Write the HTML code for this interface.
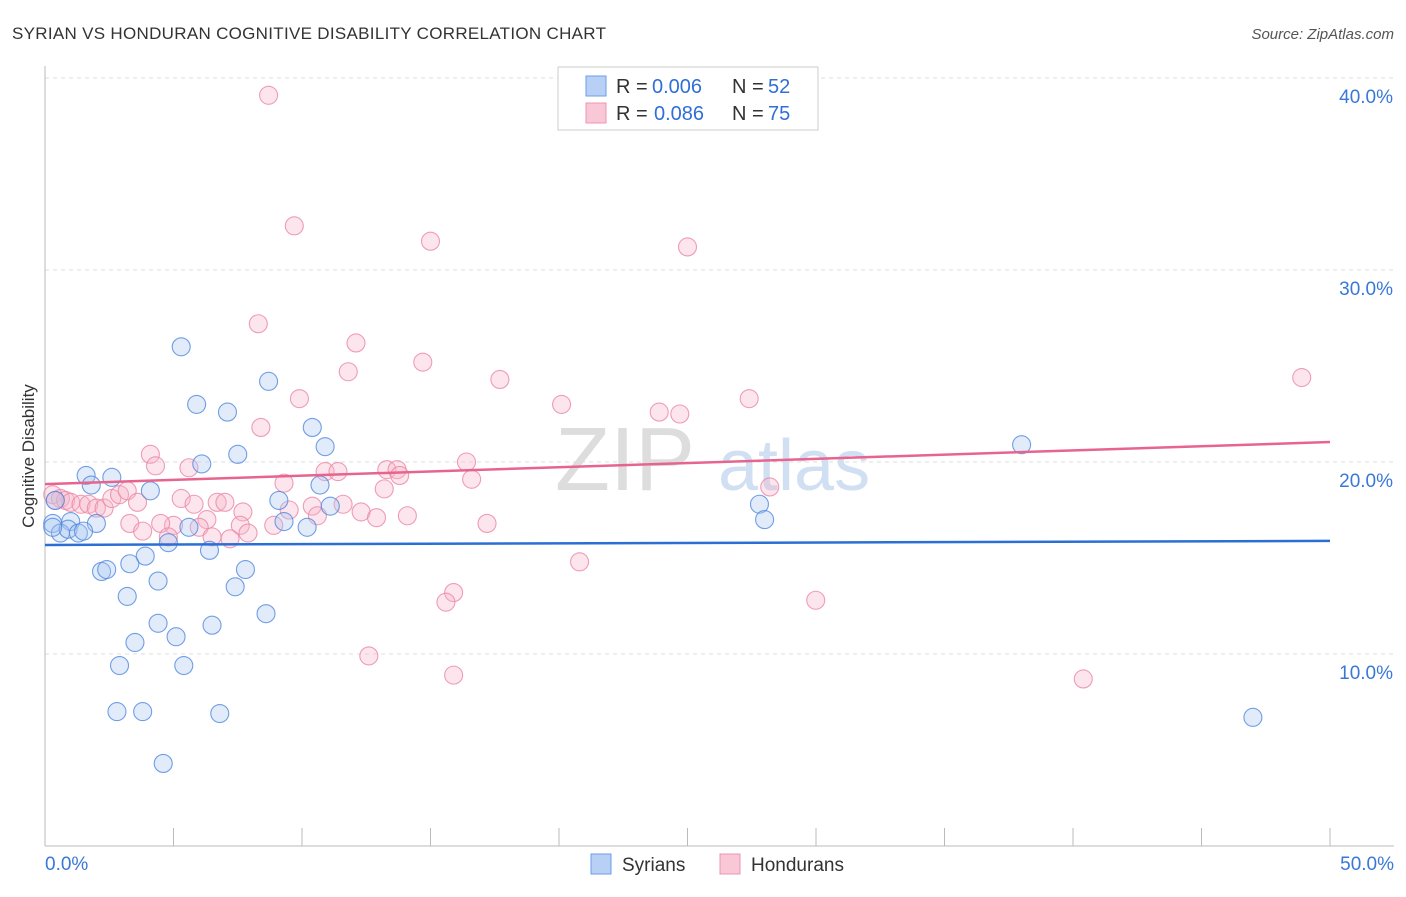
<!DOCTYPE html>
<html><head><meta charset="utf-8"><style>
body{margin:0;background:#fff;font-family:"Liberation Sans",sans-serif}
svg text{font-family:"Liberation Sans",sans-serif}
</style></head><body>
<svg id="chart" width="1406" height="892">
<text x="12" y="39" font-size="17" fill="#333" letter-spacing="0.3">SYRIAN VS HONDURAN COGNITIVE DISABILITY CORRELATION CHART</text>
<text x="1394" y="39" font-size="15" fill="#555" font-style="italic" text-anchor="end">Source: ZipAtlas.com</text>
<text x="0" y="0" font-size="17" fill="#333" transform="translate(34,456) rotate(-90)" text-anchor="middle">Cognitive Disability</text>
<text x="555" y="490" font-size="90" fill="#ddd" font-family="Liberation Serif">ZIP</text>
<text x="718" y="490" font-size="72" fill="#d0dff2">atlas</text>
<g id="grid"></g>
<g id="axes"></g>
<g id="pts"></g>
<g id="lines"></g>
<g>
<rect x="558" y="67" width="260" height="63" fill="#fff" stroke="#ccc"/>
<rect x="586" y="76" width="20" height="20" fill="#b8d0f5" stroke="#6c9ee6"/>
<rect x="586" y="103" width="20" height="20" fill="#f8c8d6" stroke="#ec94b0"/>
<text x="616" y="93" font-size="20" fill="#333">R =</text>
<text x="652" y="93" font-size="20" fill="#2f6fd6">0.006</text>
<text x="732" y="93" font-size="20" fill="#333">N =</text>
<text x="768" y="93" font-size="20" fill="#2f6fd6">52</text>
<text x="616" y="120" font-size="20" fill="#333">R =</text>
<text x="654" y="120" font-size="20" fill="#2f6fd6">0.086</text>
<text x="732" y="120" font-size="20" fill="#333">N =</text>
<text x="768" y="120" font-size="20" fill="#2f6fd6">75</text>
</g>
<g>
<rect x="591" y="854" width="20" height="20" fill="#b8d0f5" stroke="#6c9ee6"/>
<text x="622" y="871" font-size="19" fill="#333">Syrians</text>
<rect x="720" y="854" width="20" height="20" fill="#f8c8d6" stroke="#ec94b0"/>
<text x="751" y="871" font-size="19" fill="#333">Hondurans</text>
</g>
</svg>
<script>
const yTicks=[10,20,30,40];
const xTickLabels=["0.0%","50.0%"];
// Syrians [x%, y%]
const syrX=[5.3,5.9,7.1,8.7,10.4,10.9,7.5,6.1,1.6,2.6,1.8,4.1,9.1,10.7,11.1,9.3,2.0,1.0,0.3,0.6,0.9,1.3,1.5,5.6,10.2,4.8,6.4,3.9,3.3,2.2,2.4,7.8,4.4,7.4,3.2,8.6,4.4,6.5,5.1,3.5,2.9,5.4,2.8,3.8,6.8,4.6,38.0,27.8,28.0,47.0,0.3,0.4];
const syrY=[26.0,23.0,22.6,24.2,21.8,20.8,20.4,19.9,19.3,19.2,18.8,18.5,18.0,18.8,17.7,16.9,16.8,16.9,16.8,16.3,16.5,16.3,16.4,16.6,16.6,15.8,15.4,15.1,14.7,14.3,14.4,14.4,13.8,13.5,13.0,12.1,11.6,11.5,10.9,10.6,9.4,9.4,7.0,7.0,6.9,4.3,20.9,17.8,17.0,6.7,16.6,18.0];
// Hondurans
const honX=[8.7,9.7,15.0,25.0,8.3,12.1,14.7,11.8,17.7,48.9,9.9,20.1,23.9,24.7,27.4,8.4,4.1,16.4,4.3,5.6,10.9,11.4,13.3,13.7,13.8,16.6,9.3,13.2,28.2,0.3,0.6,0.8,1.0,1.4,1.7,2.0,2.3,2.6,2.9,3.2,3.6,5.3,5.8,6.7,7.0,7.7,9.5,10.4,11.6,12.3,14.1,3.3,3.8,5.0,4.5,6.3,7.6,12.9,17.2,4.8,6.0,7.2,7.9,8.9,10.6,6.5,20.8,15.9,15.6,29.99,12.6,15.9,40.4,0.4];
const honY=[39.1,32.3,31.5,31.2,27.2,26.2,25.2,24.7,24.3,24.4,23.3,23.0,22.6,22.5,23.3,21.8,20.4,20.0,19.8,19.7,19.5,19.5,19.6,19.6,19.3,19.1,18.9,18.6,18.7,18.3,18.1,18.0,17.9,17.8,17.8,17.6,17.6,18.1,18.3,18.5,17.9,18.1,17.8,17.9,17.9,17.4,17.5,17.7,17.8,17.4,17.2,16.8,16.4,16.7,16.8,17.0,16.7,17.1,16.8,16.1,16.6,16.0,16.3,16.7,17.2,16.1,14.8,13.2,12.7,12.8,9.9,8.9,8.7,18.0];
const syrTrend=[15.68,15.89];
const honTrend=[18.85,21.04];
const NS="http://www.w3.org/2000/svg";
const X0=45,X1=1330,Y0=846,PY=19.2;
function sx(v){return X0+(v/50)*(X1-X0);}
function sy(v){return Y0-v*PY;}
function mk(t,a,p){const e=document.createElementNS(NS,t);for(const k in a)e.setAttribute(k,a[k]);p.appendChild(e);return e;}
const grid=document.getElementById('grid'),axes=document.getElementById('axes'),pts=document.getElementById('pts'),lines=document.getElementById('lines');
yTicks.forEach(t=>{
  const l=mk('line',{x1:X0,x2:1394,y1:sy(t),y2:sy(t),stroke:'#ddd','stroke-dasharray':'4,4'},grid);
  
  
  const tx=mk('text',{x:1393,y:sy(t)+25,'font-size':19,fill:'#3a78d6','text-anchor':'end'},grid);
  tx.textContent=t.toFixed(1)+'%';
  
  
});
const ax=mk('line',{x1:X0,x2:X0,y1:66,y2:Y0,stroke:'#bbb'},axes);


const bx=mk('line',{x1:X0,x2:1394,y1:Y0,y2:Y0,stroke:'#bbb'},axes);


for(let i=0;i<=10;i++){
  const t=mk('line',{x1:sx(i*5),x2:sx(i*5),y1:828,y2:Y0,stroke:'#bbb'},axes);
  
  
}
[[0,'start',45],[50,'end',1394]].forEach((d,i)=>{
  const t=mk('text',{x:d[2],y:870,'font-size':19,fill:'#3a78d6','text-anchor':d[1]},axes);
  t.textContent=xTickLabels[i];
  
  
});
function dots(xs,ys,fill,stroke,name){
  xs.forEach((x,i)=>{
    const c=mk('circle',{cx:sx(x),cy:sy(ys[i]),r:9,fill:fill,'fill-opacity':0.35,stroke:stroke,'stroke-opacity':0.8,'stroke-width':1.1},pts);
    
    
  });
}
dots(honX,honY,'#f7b4c9','#eb86a6','honduran-point');
dots(syrX,syrY,'#a9c6f2','#4f88de','syrian-point');
const l1=mk('line',{x1:sx(0),x2:sx(50),y1:sy(syrTrend[0]),y2:sy(syrTrend[1]),stroke:'#2b6fd4','stroke-width':2.5},lines);


const l2=mk('line',{x1:sx(0),x2:sx(50),y1:sy(honTrend[0]),y2:sy(honTrend[1]),stroke:'#e7648e','stroke-width':2.5},lines);


</script>
</body></html>
